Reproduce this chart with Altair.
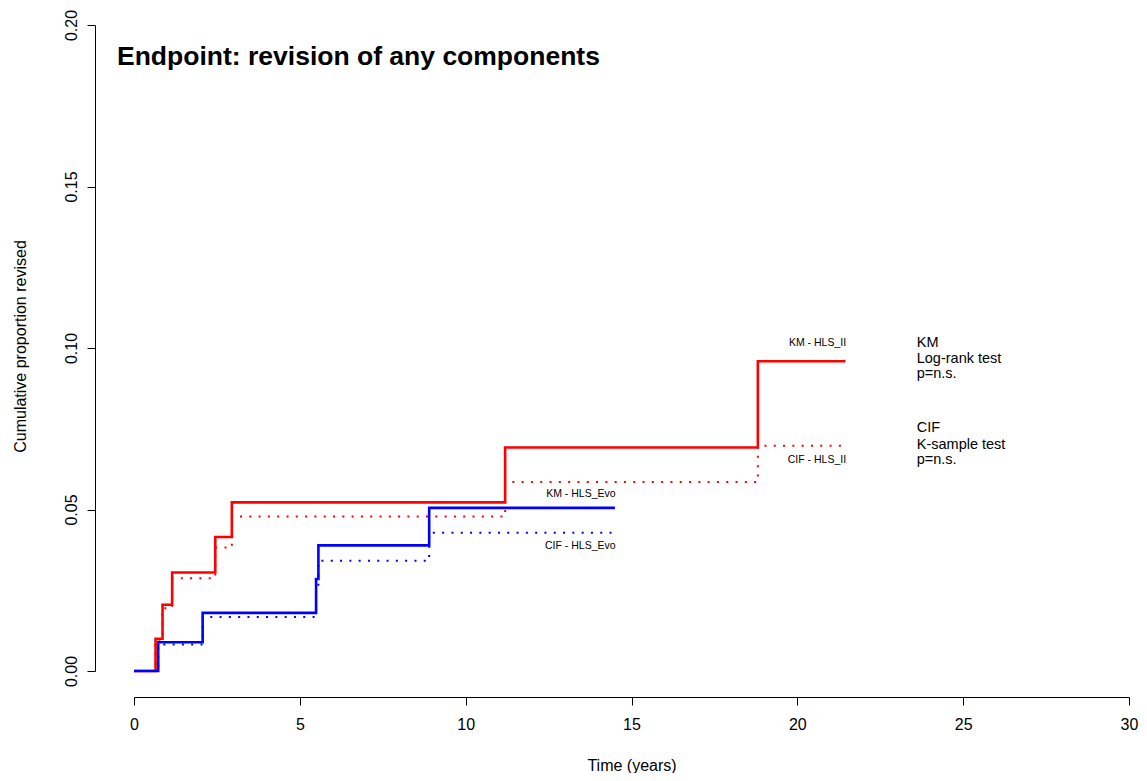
import altair as alt
import pandas as pd

# ---- data ----
red_t = [0, 0.65, 0.86, 1.15, 2.45, 2.95, 11.19, 18.81, 21.45]
red_km = [0, 0.0100, 0.0205, 0.0305, 0.0415, 0.0522, 0.0692, 0.0959, 0.0959]
red_cif = [0, 0.0097, 0.0194, 0.0287, 0.0382, 0.0478, 0.0585, 0.0697, 0.0697]

blue_t = [0, 0.73, 2.07, 5.49, 5.56, 8.9, 14.5]
blue_km = [0, 0.0089, 0.0180, 0.0285, 0.0389, 0.0505, 0.0505]
blue_cif = [0, 0.0082, 0.0167, 0.0254, 0.0341, 0.0428, 0.0428]

x_ticks = [0, 5, 10, 15, 20, 25, 30]
y_ticks = [0.0, 0.05, 0.10, 0.15, 0.20]

curve_labels = ["KM - HLS_II", "CIF - HLS_II", "KM - HLS_Evo", "CIF - HLS_Evo"]
curve_label_x = [21.47, 21.47, 14.52, 14.52]
curve_label_y = [0.1015, 0.0653, 0.0547, 0.0388]

test_lines = ["KM", "Log-rank test", "p=n.s.", "CIF", "K-sample test", "p=n.s."]
test_x = [23.6] * 6
test_y = [0.1017, 0.0967, 0.0918, 0.0751, 0.0701, 0.0652]

title_text = ["Endpoint: revision of any components"]

FONT = "Liberation Sans"

rows = []
for g, ts, km, cif in [("HLS_II", red_t, red_km, red_cif), ("HLS_Evo", blue_t, blue_km, blue_cif)]:
    for t, v in zip(ts, km):
        rows.append({"time": t, "value": v, "group": g, "method": "KM", "series": g + "-KM"})
    for t, v in zip(ts, cif):
        rows.append({"time": t, "value": v, "group": g, "method": "CIF", "series": g + "-CIF"})
curves = pd.DataFrame(rows)

labels_df = pd.DataFrame({"text": curve_labels, "x": curve_label_x, "y": curve_label_y})
tests_df = pd.DataFrame({"text": test_lines, "x": test_x, "y": test_y})
title_df = pd.DataFrame({"text": title_text})

xscale = alt.Scale(domain=[0, 30], nice=False, zero=False)
yscale = alt.Scale(domain=[0, 0.2], nice=False, zero=False)

xaxis = alt.Axis(
    values=x_ticks, offset=26, tickSize=8, grid=False,
    labelFontSize=16, labelPadding=11, labelFont=FONT, labelColor="black",
    labelFlush=False, labelOverlap=False,
    domainColor="black", tickColor="black", domainWidth=1, tickWidth=1,
    title="Time (years)", titleFont=FONT, titleFontSize=16, titleFontWeight="normal",
    titleColor="black", titleBaseline="middle", titleY=68,
)
yaxis = alt.Axis(
    values=y_ticks, format=".2f", offset=39, tickSize=8, grid=False,
    labelFontSize=16, labelPadding=8, labelFont=FONT, labelColor="black",
    labelAngle=270, labelAlign="center", labelBaseline="bottom",
    labelFlush=False, labelOverlap=False,
    domainColor="black", tickColor="black", domainWidth=1, tickWidth=1,
    title="Cumulative proportion revised", titleFont=FONT, titleFontSize=16,
    titleFontWeight="normal", titleColor="black", titleAngle=270,
    titleAlign="center", titleBaseline="middle", titleX=-75, titleY=321,
)

color = alt.Color("group:N", scale=alt.Scale(domain=["HLS_II", "HLS_Evo"], range=["#FF0000", "#0000FF"]), legend=None)

cif = alt.Chart(curves).transform_filter(alt.datum.method == "CIF").mark_line(
    interpolate="step-after", strokeWidth=2, strokeDash=[2, 7.3], strokeCap="butt"
).encode(
    x=alt.X("time:Q", scale=xscale, axis=xaxis),
    y=alt.Y("value:Q", scale=yscale, axis=yaxis),
    color=color,
    detail="series:N",
)

km = alt.Chart(curves).transform_filter(alt.datum.method == "KM").mark_line(
    interpolate="step-after", strokeWidth=2.6
).encode(
    x=alt.X("time:Q", scale=xscale),
    y=alt.Y("value:Q", scale=yscale),
    color=color,
    detail="series:N",
)

lab = alt.Chart(labels_df).mark_text(
    align="right", baseline="middle", font=FONT, fontSize=10.5, color="black"
).encode(x=alt.X("x:Q", scale=xscale), y=alt.Y("y:Q", scale=yscale), text="text:N")

tests = alt.Chart(tests_df).mark_text(
    align="left", baseline="middle", font=FONT, fontSize=14.5, color="black"
).encode(x=alt.X("x:Q", scale=xscale), y=alt.Y("y:Q", scale=yscale), text="text:N")

title = alt.Chart(title_df).mark_text(
    align="left", baseline="middle", font=FONT, fontSize=26.5, fontWeight="bold", color="black"
).encode(x=alt.value(-17), y=alt.value(32), text="text:N")

chart = alt.layer(cif, km, lab, tests, title).properties(
    width=995, height=646,
    autosize=alt.AutoSizeParams(type="none"),
    padding={"left": 126, "top": 17, "right": 10, "bottom": 102},
).configure_view(strokeWidth=0, stroke="transparent")

chart.save("out.html", embed_options={"renderer": "svg", "actions": False})
